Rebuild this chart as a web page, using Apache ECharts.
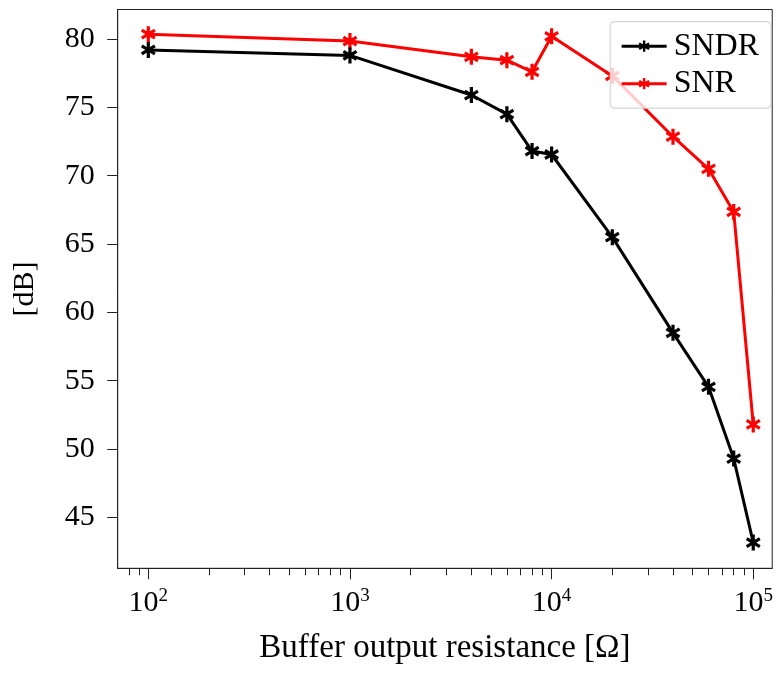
<!DOCTYPE html>
<html>
<head>
<meta charset="utf-8">
<script src="https://cdn.jsdelivr.net/npm/echarts@6/dist/echarts.min.js"></script>
<style>
  html, body { margin: 0; padding: 0; background: #fff; }
  #chart { width: 776px; height: 673px; }
</style>
</head>
<body>
<div id="chart"></div>
<script>
// Buffer output resistance sweep (ohms)
const resistance = [100, 1000, 4000, 6000, 8000, 10000, 20000, 40000, 60000, 80000, 100000];
// Measured SNDR and SNR (dB)
const sndr = [79.2, 78.8, 75.9, 74.5, 71.8, 71.55, 65.5, 58.5, 54.55, 49.3, 43.15];
const snr  = [80.35, 79.85, 78.7, 78.45, 77.6, 80.2, 77.3, 72.85, 70.5, 67.35, 51.8];
// Axis ticks
const xMajorTicks = [100, 1000, 10000, 100000];
const xMinorTicks = [80, 90, 200, 300, 400, 500, 600, 700, 800, 900,
  2000, 3000, 4000, 5000, 6000, 7000, 8000, 9000,
  20000, 30000, 40000, 50000, 60000, 70000, 80000, 90000];
const yTicks = [45, 50, 55, 60, 65, 70, 75, 80];

const FONT = '"Liberation Serif", "DejaVu Serif", serif';

// six-armed asterisk marker built from three overlapping bars
const asterisk = 'path://M8,0L12,0L12,20L8,20Z' +
  'M17.23,3.27L19.23,6.73L2.77,16.73L0.77,13.27Z' +
  'M0.77,6.73L2.77,3.27L19.23,13.27L17.23,16.73Z';

const pairs = (ys) => resistance.map((x, i) => [x, ys[i]]);

const chart = echarts.init(document.getElementById('chart'), null, { renderer: 'canvas' });

const axisColor = '#222';

chart.setOption({
  animation: false,
  backgroundColor: '#fff',
  grid: {
    left: 117.7, right: 2, top: 9.5, bottom: 104.7,
    show: true, borderColor: axisColor, borderWidth: 1, backgroundColor: 'transparent'
  },
  legend: {
    orient: 'vertical',
    right: 5, top: 21.7,
    itemWidth: 45, itemHeight: 14, itemGap: 4.5,
    padding: [8, 12, 8, 10],
    backgroundColor: 'rgba(255,255,255,0.8)',
    borderColor: '#cccccc', borderWidth: 1, borderRadius: 4,
    lineStyle: { width: 3 },
    textStyle: { fontFamily: FONT, fontSize: 32, lineHeight: 33, color: '#000', padding: [0, 0, 0, 2] },
    data: ['SNDR', 'SNR']
  },
  xAxis: [{
    type: 'log', logBase: 10,
    min: 70.5, max: 124200,
    position: 'bottom',
    name: 'Buffer output resistance [Ω]',
    nameLocation: 'middle', nameGap: 64,
    nameTextStyle: { fontFamily: FONT, fontSize: 33, color: '#000' },
    axisLine: { show: true, lineStyle: { color: axisColor, width: 1 } },
    axisTick: { show: true, length: 11, lineStyle: { color: axisColor, width: 1 }, customValues: xMajorTicks },
    splitLine: { show: false },
    axisLabel: {
      customValues: xMajorTicks,
      margin: 18,
      formatter: (v) => '{b|10}{s|' + Math.round(Math.log10(v)) + '}',
      rich: {
        b: { fontFamily: FONT, fontSize: 30, color: '#000', lineHeight: 34 },
        s: { fontFamily: FONT, fontSize: 19, color: '#000', verticalAlign: 'top', lineHeight: 20 }
      }
    }
  }, {
    type: 'log', logBase: 10,
    min: 70.5, max: 124200,
    position: 'bottom',
    axisLine: { show: false },
    axisTick: { show: true, length: 7, lineStyle: { color: axisColor, width: 1 }, customValues: xMinorTicks },
    axisLabel: { show: false },
    splitLine: { show: false }
  }],
  yAxis: {
    type: 'value',
    min: 41.27, max: 82.16,
    name: '[dB]',
    nameLocation: 'middle', nameGap: 78,
    nameTextStyle: { fontFamily: FONT, fontSize: 30, color: '#000' },
    axisLine: { show: true, lineStyle: { color: axisColor, width: 1 } },
    axisTick: { show: true, length: 10.5, lineStyle: { color: axisColor, width: 1 }, customValues: yTicks },
    splitLine: { show: false },
    axisLabel: {
      customValues: yTicks,
      margin: 23,
      fontFamily: FONT, fontSize: 30, color: '#000'
    }
  },
  series: [{
    name: 'SNDR',
    type: 'line',
    data: pairs(sndr),
    symbol: asterisk, symbolSize: 16, symbolKeepAspect: true,
    lineStyle: { color: '#000', width: 3 },
    itemStyle: { color: '#000' },
    z: 3
  }, {
    name: 'SNR',
    type: 'line',
    data: pairs(snr),
    symbol: asterisk, symbolSize: 16, symbolKeepAspect: true,
    lineStyle: { color: '#ff0000', width: 3 },
    itemStyle: { color: '#ff0000' },
    z: 2
  }]
});
</script>
</body>
</html>
